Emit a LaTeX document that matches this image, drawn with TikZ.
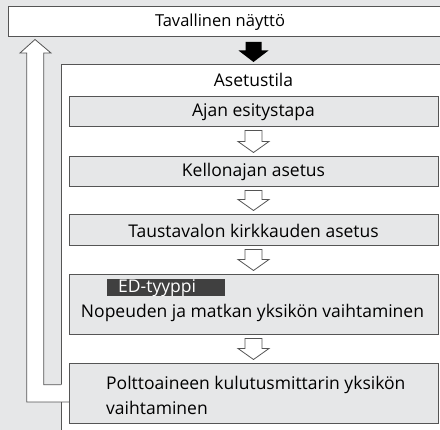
\documentclass[tikz,border=0pt]{standalone}
\usepackage{fontspec}
\setmainfont{Open Sans}
\usetikzlibrary{calc}
\definecolor{bg}{HTML}{E6E7E8}
\definecolor{edge}{HTML}{555555}
\definecolor{tag}{HTML}{404040}
\tikzset{
  x=1pt,y=-1pt,
  lbl/.style={font=\fontsize{17.5}{20}\selectfont},
  framebox/.style={draw=edge,line width=1pt,fill=white,inner sep=0pt},
  stepbox/.style={draw=edge,line width=1pt,fill=bg,inner sep=0pt,minimum width=369pt,lbl},
  hollow/.style={draw=edge,line width=0.8pt,fill=white,line join=miter},
  solidarrow/.style={fill=black,draw=none},
}
\newcommand\hollowarrow[2]{%
  \draw[hollow] ($(#1.south)+(-8.5,3)$) -- ($(#1.south)+(8.5,3)$) -- ($(#2.north)+(8.5,-15)$) -- ($(#2.north)+(15.5,-15)$) -- ($(#2.north)+(0,-4)$) -- ($(#2.north)+(-15.5,-15)$) -- ($(#2.north)+(-8.5,-15)$) -- cycle;}
\begin{document}
\begin{tikzpicture}
\useasboundingbox (0,0) rectangle (440,430);
\fill[bg] (0,0) rectangle (440,430);
\begin{scope}
\clip (0,0) rectangle (440,430);
% top box
\node[framebox,minimum width=491pt,minimum height=30pt] (top) at (253.5,22) {};
\node[font=\fontsize{16.5}{20}\selectfont] (toptext) at (220,22) {Tavallinen näyttö};
% outer box
\node[framebox,minimum width=385pt,minimum height=380pt] (outer) at (253.5,255) {};
\node[lbl] (outertext) at (253.5,80) {Asetustila};
% black arrow
\fill[solidarrow] ($(top.south)+(-8,4.5)$) -- ($(top.south)+(8,4.5)$) -- ($(top.south)+(8,13)$) -- ($(top.south)+(15,13)$) -- ($(top.south)+(0,24.5)$) -- ($(top.south)+(-15,13)$) -- ($(top.south)+(-8,13)$) -- cycle;
% return arrow
\coordinate (r1) at (69,402);
\coordinate (r2) at (26.7,402);
\coordinate (r3) at (26.7,53);
\coordinate (r4) at (20,53);
\coordinate (r5) at (35,39.5);
\coordinate (r6) at (51,53);
\coordinate (r7) at (43.7,53);
\coordinate (r8) at (43.7,384.7);
\coordinate (r9) at (61,384.7);
\coordinate (r10) at (69,384.7);
\fill[white] (r1) -- (r2) -- (r3) -- (r4) -- (r5) -- (r6) -- (r7) -- (r8) -- (r10) -- cycle;
\draw[draw=edge,line width=0.8pt,line join=miter] (r1) -- (r2) -- (r3) -- (r4) -- (r5) -- (r6) -- (r7) -- (r8) -- (r9);
% steps
\node[stepbox,minimum height=30pt] (s1) at (253.5,112) {Ajan esitystapa};
\node[stepbox,minimum height=30pt] (s2) at (253.5,172) {Kellonajan asetus};
\node[stepbox,minimum height=31pt] (s3) at (253.5,230.5) {Taustavalon kirkkauden asetus};
\node[stepbox,minimum height=60pt] (s4) at (253.5,305) {};
\node[fill=tag,inner sep=0pt,minimum width=118pt,minimum height=17pt] (edtag) at (166,287.5) {};
\node[text=white,lbl,inner sep=0pt,anchor=base west] (edtext) at (118,293) {ED-tyyppi};
\node[lbl,inner sep=0pt] (s4text) at (252.5,313) {Nopeuden ja matkan yksikön vaihtaminen};
\node[stepbox,minimum height=60pt] (s5) at (253.5,394) {};
\node[inner sep=0pt,anchor=west,align=left,font=\fontsize{17.5}{25}\selectfont] (s5text) at (106,395.5) {Polttoaineen kulutusmittarin yksikön\\vaihtaminen};
\hollowarrow{s1}{s2}
\hollowarrow{s2}{s3}
\hollowarrow{s3}{s4}
\hollowarrow{s4}{s5}
\end{scope}
\end{tikzpicture}
\end{document}
